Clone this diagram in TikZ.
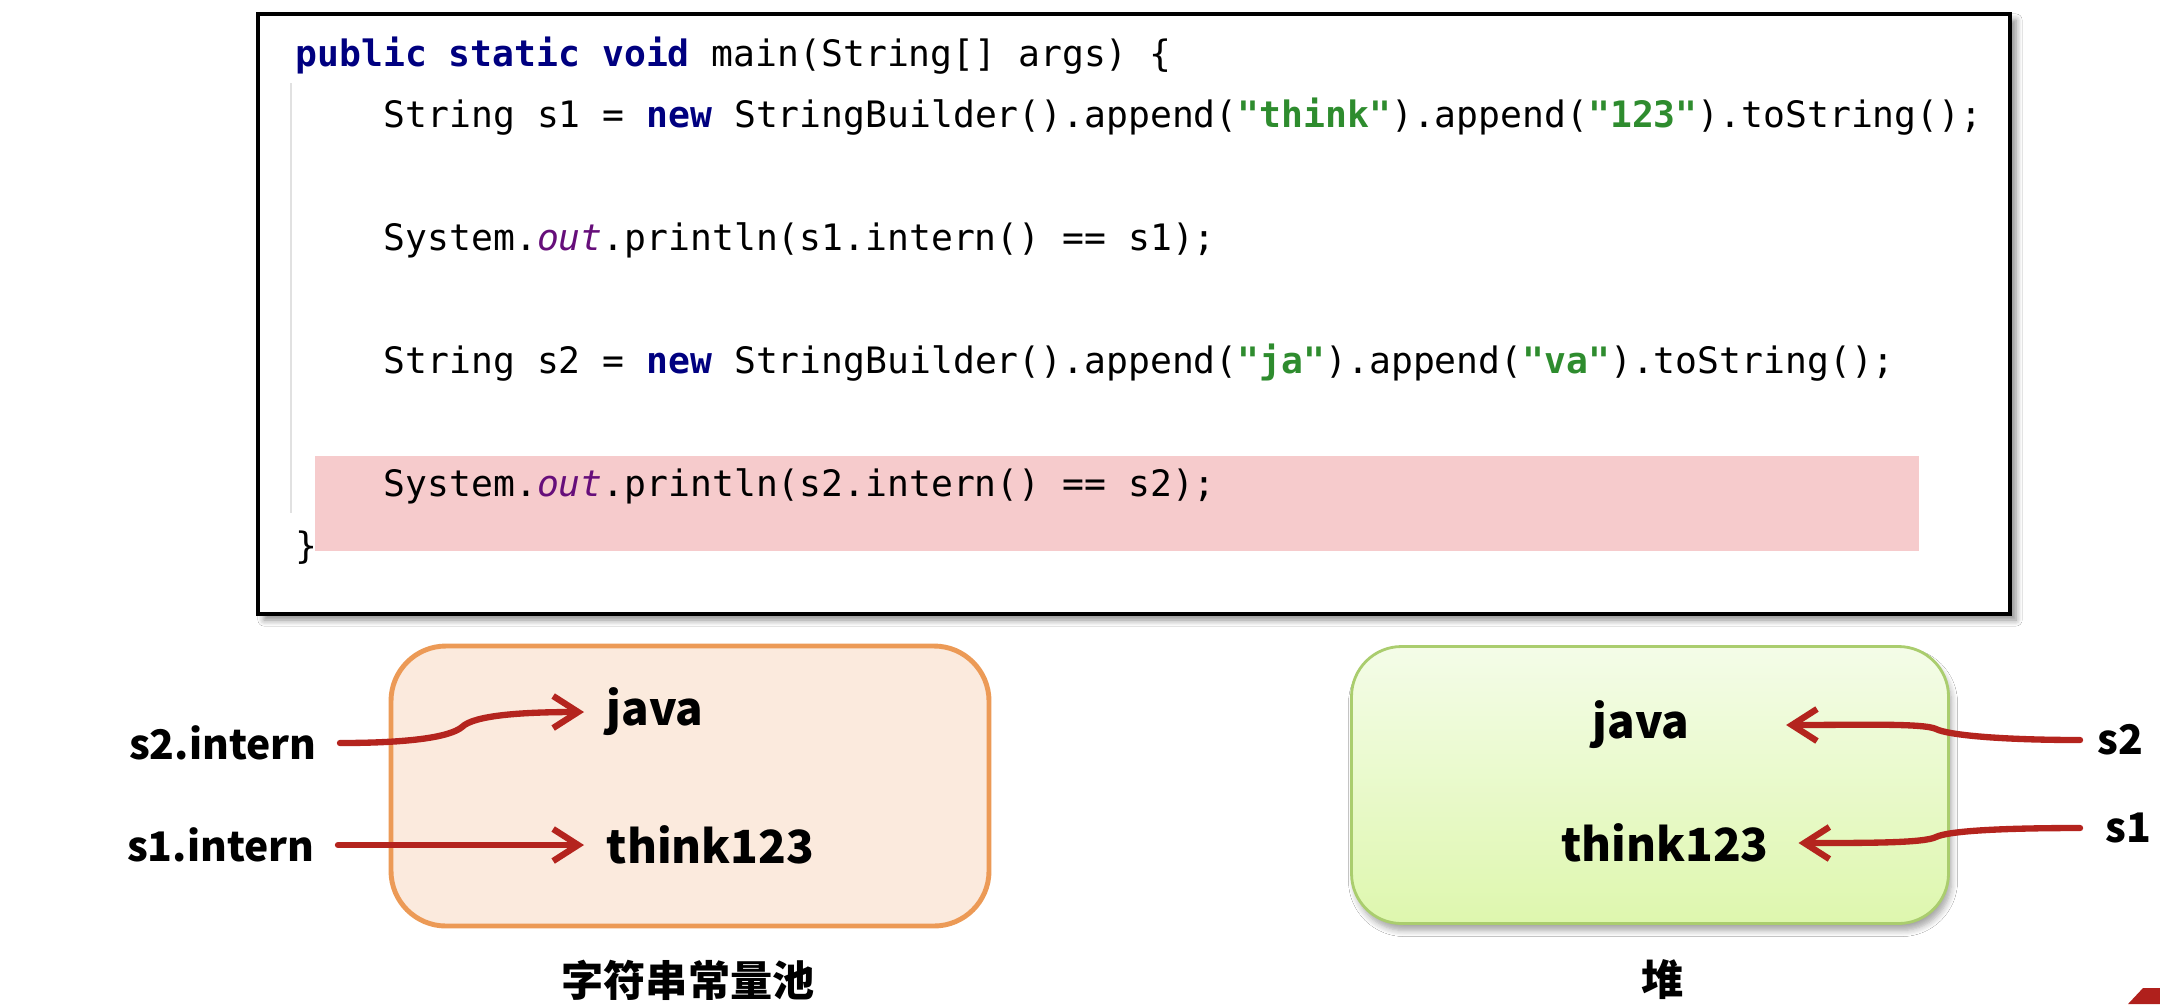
\documentclass[tikz,border=0pt]{standalone}
\usepackage{fontspec}
\setmonofont{DejaVu Sans Mono}
\newfontfamily\lblfont{Noto Sans CJK SC}
\usetikzlibrary{arrows.meta,shadows.blur}

\definecolor{hlpink}{RGB}{246,203,204}
\definecolor{kwnavy}{RGB}{0,0,128}
\definecolor{strgreen}{RGB}{46,140,46}
\definecolor{fldpurple}{RGB}{102,14,122}
\definecolor{guidegray}{RGB}{225,225,225}
\definecolor{poolline}{RGB}{236,154,86}
\definecolor{poolfill}{RGB}{251,234,221}
\definecolor{heapline}{RGB}{170,205,110}
\definecolor{heaptop}{RGB}{244,252,232}
\definecolor{heapbot}{RGB}{222,247,174}
\definecolor{ptrred}{RGB}{180,36,30}
\definecolor{logored}{RGB}{176,32,28}

\newcommand{\jkw}[1]{\textcolor{kwnavy}{\bfseries #1}}
\newcommand{\jstr}[1]{\textcolor{strgreen}{\bfseries #1}}
\newcommand{\jfld}[1]{\textcolor{fldpurple}{\itshape #1}}

\begin{document}
\begin{tikzpicture}[
	code/.style={font=\ttfamily\fontsize{10.35}{12}\selectfont, anchor=base west, inner sep=0pt},
	lbl/.style={font=\lblfont\bfseries\fontsize{13}{15}\selectfont, inner sep=0pt},
	varname/.style={font=\lblfont\bfseries\fontsize{11.6}{14}\selectfont, inner sep=0pt},
	areaname/.style={font=\lblfont\bfseries\fontsize{12}{14}\selectfont, inner sep=0pt},
	ptr/.style={draw=ptrred, line width=1.8pt, line cap=round, -{Straight Barb[length=2.5mm, width=3.2mm]}},
	codeframe/.style={draw=black, line width=1.3pt, fill=white, blur shadow={shadow xshift=0.6mm, shadow yshift=-0.6mm, shadow blur steps=6, shadow opacity=45}},
	poolbox/.style={draw=poolline, line width=1.4pt, fill=poolfill, rounded corners=0.55cm},
	heapbox/.style={draw=heapline, line width=0.8pt, top color=heaptop, bottom color=heapbot, rounded corners=0.5cm, blur shadow={shadow xshift=0.3mm, shadow yshift=-0.7mm, shadow blur steps=6, shadow opacity=35}}
]
	\path[use as bounding box, fill=white] (0,0) rectangle (21.6,-10.04);

	% code listing
	\node[codeframe, minimum width=17.52cm, minimum height=6.0cm] (codebox) at (11.34,-3.14) {};
	\fill[hlpink] (3.15,-4.56) rectangle (19.19,-5.51);
	\draw[guidegray, line width=0.6pt] (2.91,-0.83) -- (2.91,-5.13);
	\node[code] (ln1) at (2.95,-0.66) {\jkw{public static void} main(String[] args) \{};
	\node[code] (ln2) at (3.83,-1.275) {String s1 = \jkw{new} StringBuilder().append(\jstr{"think"}).append(\jstr{"123"}).toString();};
	\node[code] (ln3) at (3.83,-2.505) {System.\jfld{out}.println(s1.intern() == s1);};
	\node[code] (ln4) at (3.83,-3.735) {String s2 = \jkw{new} StringBuilder().append(\jstr{"ja"}).append(\jstr{"va"}).toString();};
	\node[code] (ln5) at (3.83,-4.965) {System.\jfld{out}.println(s2.intern() == s2);};
	\node[code] (ln6) at (2.95,-5.58) {\}};

	% string pool
	\node[poolbox, minimum width=5.98cm, minimum height=2.80cm] (pool) at (6.90,-7.86) {};
	\node[lbl, anchor=west] (poolJava) at (6.06,-7.12) {java};
	\node[lbl, anchor=west] (poolThink) at (6.06,-8.45) {think123};
	\node[varname, anchor=east] (s2intern) at (3.17,-7.43) {s2.intern};
	\node[varname, anchor=east] (s1intern) at (3.15,-8.45) {s1.intern};
	\node[areaname] (poolName) at (6.88,-9.80) {字符串常量池};
	\coordinate (kinkA) at (4.62,-7.27);
	\draw[ptr] ([xshift=2.3mm]s1intern.east) -- ([xshift=-2.2mm]poolThink.west);
	\draw[ptr] ([xshift=2.3mm]s2intern.east) .. controls +(0.7,0) and +(-0.12,-0.1) .. (kinkA)
		.. controls +(0.12,0.12) and +(-0.6,0) .. ([xshift=-2.2mm]poolJava.west);

	% heap
	\node[heapbox, minimum width=5.97cm, minimum height=2.77cm] (heap) at (16.50,-7.85) {};
	\node[lbl] (heapJava) at (16.41,-7.25) {java};
	\node[lbl] (heapThink) at (16.65,-8.43) {think123};
	\node[varname, anchor=west] (s2) at (20.97,-7.40) {s2};
	\node[varname, anchor=west] (s1) at (21.05,-8.28) {s1};
	\node[areaname] (heapName) at (16.63,-9.80) {堆};
	\coordinate (kinkB) at (19.36,-7.29);
	\coordinate (kinkC) at (19.36,-8.37);
	\draw[ptr] ([xshift=-1.7mm]s2.west) .. controls +(-0.8,0) and +(0.12,-0.06) .. (kinkB)
		.. controls +(-0.12,0.06) and +(0.7,0) .. ([xshift=9.6mm]heapJava.east);
	\draw[ptr] ([xshift=-2.5mm]s1.west) .. controls +(-0.8,0) and +(0.12,0.06) .. (kinkC)
		.. controls +(-0.12,-0.06) and +(0.7,0) .. ([xshift=2.9mm]heapThink.east);

	% corner of logo
	\fill[logored] (21.28,-10.04) -- (21.43,-9.88) -- (21.6,-9.88) -- (21.6,-10.04) -- cycle;
\end{tikzpicture}
\end{document}
